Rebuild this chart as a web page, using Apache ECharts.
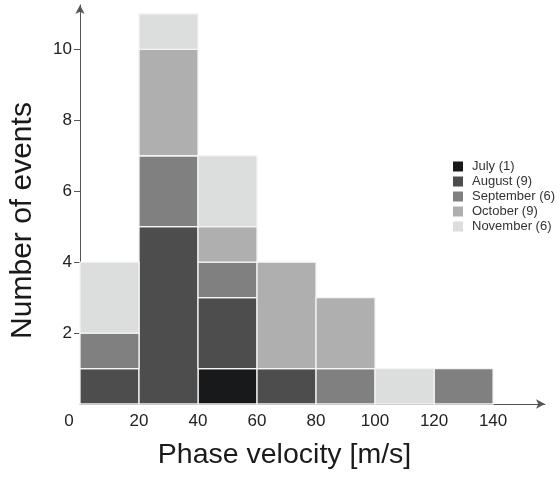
<!DOCTYPE html>
<html>
<head>
<meta charset="utf-8">
<script src="https://cdn.jsdelivr.net/npm/echarts@6/dist/echarts.min.js"></script>
<style>html,body{margin:0;padding:0;background:#fff}#c{width:560px;height:477px}</style>
</head>
<body>
<div id="c"></div>
<script>
// Bin edges (phase velocity, m/s)
var binStarts = [0, 20, 40, 60, 80, 100, 120];
var binWidth = 20;
// Month names (legend) and counts per bin, stacked bottom to top in this order
var months = ['July (1)', 'August (9)', 'September (6)', 'October (9)', 'November (6)'];
var july      = [0, 0, 1, 0, 0, 0, 0];
var august    = [1, 5, 2, 1, 0, 0, 0];
var september = [1, 2, 1, 0, 1, 0, 1];
var october   = [0, 3, 1, 3, 2, 0, 0];
var november  = [2, 1, 2, 0, 0, 1, 0];
var xTickLabels = [0, 20, 40, 60, 80, 100, 120, 140];
var yTickLabels = [2, 4, 6, 8, 10];

var counts = [july, august, september, october, november];
var colors = ['#18191a', '#4d4d4d', '#808080', '#afafb0', '#dcdddd'];

var base = binStarts.map(function () { return 0; });
var series = counts.map(function (arr, si) {
  var data = [];
  arr.forEach(function (v, i) {
    if (v > 0) {
      data.push([binStarts[i], binStarts[i] + binWidth, base[i], base[i] + v]);
      base[i] += v;
    }
  });
  return {
    type: 'custom',
    name: months[si],
    itemStyle: { color: colors[si] },
    encode: { x: [0, 1], y: [2, 3] },
    data: data,
    renderItem: function (params, api) {
      var p0 = api.coord([api.value(0), api.value(3)]);
      var p1 = api.coord([api.value(1), api.value(2)]);
      return {
        type: 'rect',
        shape: { x: p0[0], y: p0[1], width: p1[0] - p0[0], height: p1[1] - p0[1] },
        style: { fill: colors[si], stroke: '#f4f4f4', lineWidth: 1.3 }
      };
    }
  };
});

var FONT = '"Liberation Sans", Arial, sans-serif';
var chart = echarts.init(document.getElementById('c'), null, { renderer: 'canvas' });
chart.setOption({
  animation: false,
  backgroundColor: '#ffffff',
  grid: { left: 80, right: 15, top: 5, bottom: 73, containLabel: false },
  legend: {
    orient: 'vertical',
    left: 448, top: 155,
    itemWidth: 10, itemHeight: 10, itemGap: 2,
    icon: 'rect',
    textStyle: { fontFamily: FONT, fontSize: 13, color: '#333', padding: [0, 0, 0, 4] },
    data: months
  },
  xAxis: {
    type: 'value',
    min: 0, max: 157.6, interval: 20,
    splitLine: { show: false },
    axisLine: { lineStyle: { color: '#555', width: 1 }, symbol: ['none', 'arrow'], symbolSize: [7, 9] },
    axisTick: { show: false },
    axisLabel: {
      customValues: xTickLabels,
      margin: 9,
      fontFamily: FONT, fontSize: 17, color: '#222',
      formatter: function (v) { return v === 0 ? '{z|0}' : String(v); },
      rich: { z: { fontFamily: FONT, fontSize: 17, color: '#222', padding: [0, 22, 0, 0] } }
    },
    name: 'Phase velocity [m/s]',
    nameLocation: 'middle',
    nameGap: 37,
    nameTextStyle: { fontFamily: FONT, fontSize: 28.5, color: '#1a1a1a', padding: [0, 56, 0, 0] }
  },
  yAxis: {
    type: 'value',
    min: 0, max: 11.25, interval: 2,
    splitLine: { show: false },
    axisLine: { lineStyle: { color: '#555', width: 1 }, symbol: ['none', 'arrow'], symbolSize: [7, 9] },
    axisTick: { show: true, length: 6, lineStyle: { color: '#555' }, customValues: yTickLabels },
    axisLabel: {
      customValues: yTickLabels,
      margin: 8,
      fontFamily: FONT, fontSize: 17, color: '#222'
    },
    name: 'Number of events',
    nameLocation: 'middle',
    nameGap: 42,
    nameTextStyle: { fontFamily: FONT, fontSize: 30, color: '#1a1a1a', padding: [0, 32, 0, 0] }
  },
  series: series
});
</script>
</body>
</html>
